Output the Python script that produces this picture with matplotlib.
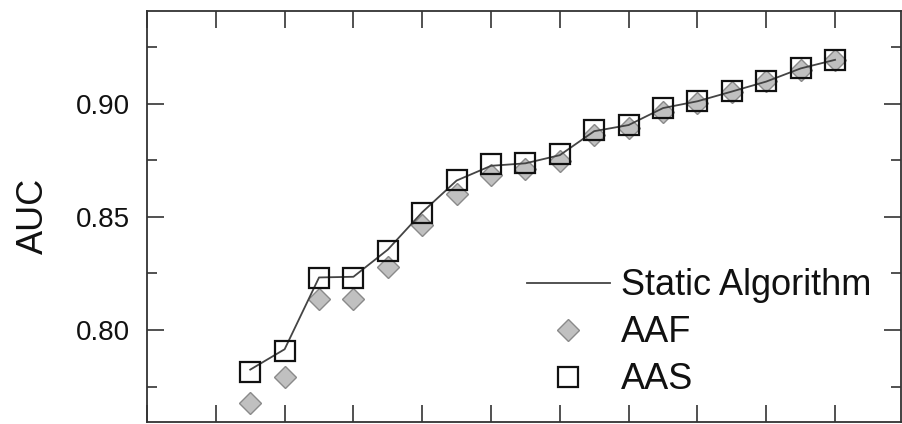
import matplotlib
matplotlib.use("Agg")
import matplotlib.pyplot as plt
from matplotlib.ticker import MultipleLocator, NullFormatter

plt.rcParams['font.family'] = ['Liberation Sans', 'DejaVu Sans']

# data
x = [3, 4, 5, 6, 7, 8, 9, 10, 11, 12, 13, 14, 15, 16, 17, 18, 19, 20]
static_alg = [0.7825, 0.7915, 0.8232, 0.8235, 0.8355, 0.8520, 0.8660, 0.8725,
              0.8736, 0.8772, 0.8878, 0.8905, 0.8980, 0.9010, 0.9053, 0.9097,
              0.9155, 0.9193]
aaf = [0.7679, 0.7794, 0.8135, 0.8135, 0.8279, 0.8463, 0.8599, 0.8684,
       0.8713, 0.8747, 0.8860, 0.8892, 0.8963, 0.9003, 0.9049, 0.9098,
       0.9150, 0.9191]
aas = [0.7813, 0.7909, 0.8231, 0.8228, 0.8350, 0.8518, 0.8662, 0.8735,
       0.8738, 0.8779, 0.8885, 0.8907, 0.8981, 0.9010, 0.9054, 0.9098,
       0.9157, 0.9194]

fig = plt.figure(figsize=(9.02, 4.24), dpi=100)
ax = fig.add_axes([0.163, 0.0054, 0.836, 0.9694])

d, = ax.plot(x, aaf, linestyle='none', marker='D', markersize=10.8,
             markerfacecolor='#c0c0c0', markeredgecolor='#8a8a8a',
             markeredgewidth=1.0, label='AAF')
l, = ax.plot(x, static_alg, color='#444444', lw=1.3, label='Static Algorithm')
s, = ax.plot(x, aas, linestyle='none', marker='s', markersize=14.5,
             markerfacecolor='none', markeredgecolor='#111111',
             markeredgewidth=1.6, label='AAS')

ax.set_xlim(0, 21.92)
ax.set_ylim(0.7595, 0.941)
ax.xaxis.set_major_locator(MultipleLocator(2))
ax.xaxis.set_major_formatter(NullFormatter())
ax.yaxis.set_major_locator(MultipleLocator(0.05))
ax.yaxis.set_minor_locator(MultipleLocator(0.025))
ax.set_yticks([0.80, 0.85, 0.90])
ax.set_yticklabels(['0.80', '0.85', '0.90'])

ax.tick_params(axis='both', which='major', direction='in', length=12, width=1.1,
               top=True, right=True, labelsize=20, colors='#222222', pad=12)
ax.tick_params(axis='y', which='minor', direction='in', length=7, width=1.1,
               right=True, colors='#222222')
ax.tick_params(axis='y', labelcolor='#111111')
for sp in ax.spines.values():
    sp.set_linewidth(1.3)
    sp.set_color('#333333')

ax.set_ylabel('AUC', fontsize=26, labelpad=18, color='#111111')

leg = ax.legend(handles=[l, d, s], loc='upper left',
                bbox_to_anchor=(0.5036, 0.373), frameon=False, fontsize=26,
                handlelength=2.3, handletextpad=0.3, labelspacing=0.33,
                borderpad=0, borderaxespad=0)
for t in leg.get_texts():
    t.set_color('#111111')

fig.savefig('out.png', dpi=100)
